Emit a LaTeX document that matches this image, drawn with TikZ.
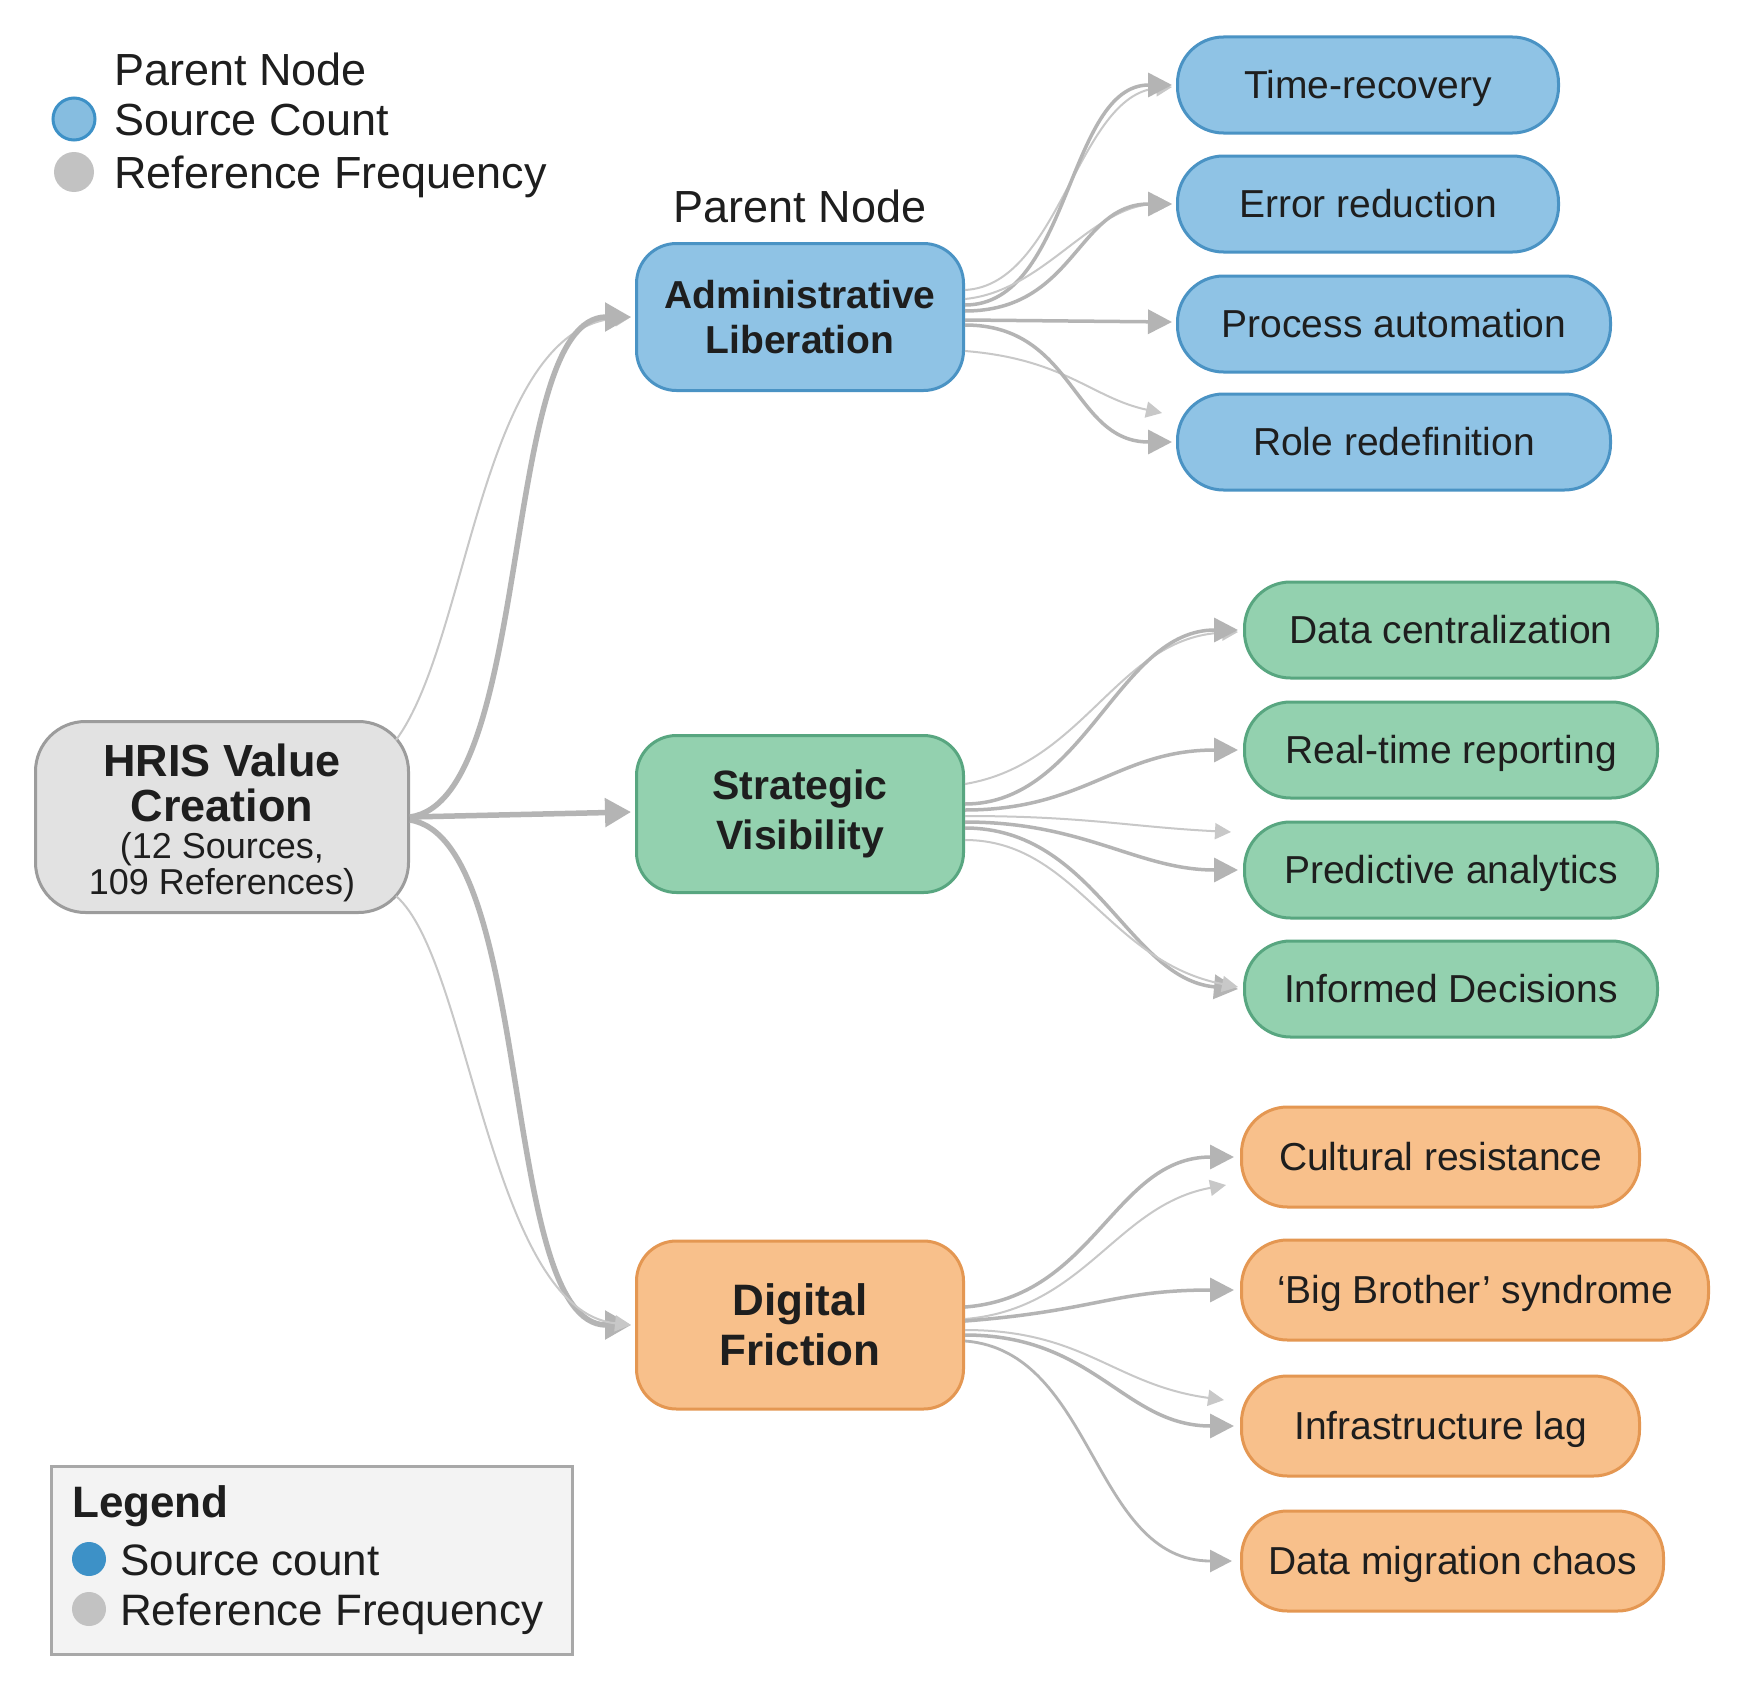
\documentclass[tikz,border=0pt]{standalone}
\usepackage{fontspec}
\setmainfont{Liberation Sans}
\usetikzlibrary{arrows.meta,calc}
\definecolor{ink}{HTML}{1E1E1E}
\definecolor{bluefill}{HTML}{8FC3E5}
\definecolor{bluedraw}{HTML}{4A93C4}
\definecolor{greenfill}{HTML}{93D1AF}
\definecolor{greendraw}{HTML}{58A680}
\definecolor{orangefill}{HTML}{F8C08B}
\definecolor{orangedraw}{HTML}{E49752}
\definecolor{grayfill}{HTML}{E2E2E2}
\definecolor{graydraw}{HTML}{9C9C9C}
\definecolor{arrowgray}{HTML}{B4B4B4}
\definecolor{arrowlight}{HTML}{C8C8C8}
\definecolor{legblue}{HTML}{3D91C7}
\definecolor{legblueb}{HTML}{86BDE0}
\definecolor{leggray}{HTML}{C2C2C2}
\definecolor{legfill}{HTML}{F3F3F3}
\definecolor{legdraw}{HTML}{A8A8A8}
\begin{document}
\begin{tikzpicture}[x=1pt,y=-1pt,
  txt/.style={inner sep=0pt, text=ink},
  parentbox/.style={rounded corners=40pt, line width=3pt, minimum width=327pt, align=center, text=ink},
  leaf/.style={anchor=west, rounded corners=46pt, line width=3pt, minimum height=96pt, text=ink,
    font=\fontsize{39}{44}\selectfont, text height=29pt, text depth=3pt},
  blueleaf/.style={leaf, fill=bluefill, draw=bluedraw},
  greenleaf/.style={leaf, fill=greenfill, draw=greendraw},
  orangeleaf/.style={leaf, fill=orangefill, draw=orangedraw},
  conthick/.style={draw=arrowgray, line width=5.5pt, -{Triangle[length=26pt,width=28pt]}},
  conmed/.style={draw=arrowgray, line width=3.5pt, -{Triangle[length=24pt,width=24pt]}},
  conthin/.style={draw=arrowlight, line width=2pt, -{Triangle[length=16pt,width=16pt]}},
]
\useasboundingbox[fill=white] (0,0) rectangle (1740,1686);

% ---------- top legend ----------
\node[txt, anchor=base west, font=\fontsize{45}{50}\selectfont] (tlparent) at (114,85) {Parent Node};
\node[circle, minimum size=42pt, inner sep=0pt, fill=legblueb, draw=legblue, line width=3pt] (tlbluedot) at (74,119) {};
\node[txt, anchor=base west, font=\fontsize{45}{50}\selectfont] (tlsource) at (114,135) {Source Count};
\node[circle, minimum size=40pt, inner sep=0pt, fill=leggray] (tlgraydot) at (74,172) {};
\node[txt, anchor=base west, font=\fontsize{45}{50}\selectfont] (tlref) at (114,188) {Reference Frequency};

% ---------- root ----------
\node[rounded corners=50pt, line width=3pt, fill=grayfill, draw=graydraw, minimum width=373pt, minimum height=191pt] (hris) at (222,817) {};
\node[txt, align=center, font=\fontsize{45}{45}\selectfont\bfseries] (hristitle) at (222,783) {HRIS Value\\Creation};
\node[txt, align=center, font=\fontsize{36}{36}\selectfont] (hrissub) at (222,867) {(12 Sources,\\109 References)};

% ---------- parents ----------
\node[txt, font=\fontsize{45}{50}\selectfont] (plabel) at (800,206) {Parent Node};
\node[parentbox, fill=bluefill, draw=bluedraw, minimum height=147pt, font=\fontsize{39}{45}\selectfont\bfseries] (admin) at (800,317) {Administrative\\Liberation};
\node[parentbox, fill=greenfill, draw=greendraw, minimum height=157pt, font=\fontsize{41}{50}\selectfont\bfseries] (strat) at (800,814) {Strategic\\Visibility};
\node[parentbox, fill=orangefill, draw=orangedraw, minimum height=168pt, font=\fontsize{44}{50}\selectfont\bfseries] (digi) at (800,1325) {Digital\\Friction};

% ---------- leaves ----------
\node[blueleaf, minimum width=381pt] (tr) at (1176,85) {Time-recovery};
\node[blueleaf, minimum width=381pt] (er) at (1176,204) {Error reduction};
\node[blueleaf, minimum width=433pt] (pa) at (1176,324) {Process automation};
\node[blueleaf, minimum width=433pt] (rr) at (1176,442) {Role redefinition};

\node[greenleaf, minimum width=413pt] (dc) at (1243,630) {Data centralization};
\node[greenleaf, minimum width=413pt] (rt) at (1243,750) {Real-time reporting};
\node[greenleaf, minimum width=413pt] (pr) at (1243,870) {Predictive analytics};
\node[greenleaf, minimum width=413pt] (id) at (1243,989) {Informed Decisions};

\node[orangeleaf, minimum width=398pt, minimum height=100pt] (cr) at (1240,1157) {Cultural resistance};
\node[orangeleaf, minimum width=467pt, minimum height=100pt] (bb) at (1240,1290) {`Big Brother' syndrome};
\node[orangeleaf, minimum width=398pt, minimum height=100pt] (il) at (1240,1426) {Infrastructure lag};
\node[orangeleaf, minimum width=422pt, minimum height=100pt] (dm) at (1240,1561) {Data migration chaos};

% ---------- root connectors ----------
\draw[conthin] ($(hris.north east)+(-14,20)$) .. controls (470,640) and (480,330) .. ($(admin.west)+(-4,0)$);
\draw[conthick] (hris.east) .. controls +(125,-17) and +(-132,0) .. ($(admin.west)+(-4,0)$);
\draw[conthick] (hris.east) -- ($(strat.west)+(-4,-2)$);
\draw[conthick] ($(hris.east)+(0,3)$) .. controls +(125,20) and +(-132,0) .. ($(digi.west)+(-4,0)$);
\draw[conthin] ($(hris.south east)+(-14,-18)$) .. controls (470,960) and (490,1310) .. ($(digi.west)+(-4,0)$);

% ---------- admin connectors ----------
\draw[conthin] ($(admin.east)+(0,-27)$) .. controls +(95,-5) and +(-95,8) .. ($(tr.west)+(-4,2)$);
\draw[conmed] ($(admin.east)+(0,-12)$) .. controls +(105,0) and +(-105,0) .. ($(tr.west)+(-4,0)$);
\draw[conthin] ($(admin.east)+(0,-18)$) .. controls +(80,-8) and +(-80,0) .. ($(er.west)+(-4,0)$);
\draw[conmed] ($(admin.east)+(0,-6)$) .. controls +(110,0) and +(-95,0) .. ($(er.west)+(-4,0)$);
\draw[conmed] ($(admin.east)+(0,3)$) -- ($(pa.west)+(-4,-2)$);
\draw[conthin] ($(admin.east)+(0,34)$) .. controls +(100,8) and +(-70,-15) .. ($(rr.west)+(-14,-29)$);
\draw[conmed] ($(admin.east)+(0,8)$) .. controls +(110,0) and +(-100,0) .. ($(rr.west)+(-4,0)$);

% ---------- strategic connectors ----------
\draw[conthin] ($(strat.east)+(0,-30)$) .. controls +(120,-20) and +(-120,5) .. ($(dc.west)+(-5,2)$);
\draw[conmed] ($(strat.east)+(0,-10)$) .. controls +(120,0) and +(-120,0) .. ($(dc.west)+(-5,0)$);
\draw[conmed] ($(strat.east)+(0,-4)$) .. controls +(120,0) and +(-120,0) .. ($(rt.west)+(-5,0)$);
\draw[conthin] ($(strat.east)+(0,2)$) .. controls +(120,0) and +(-100,-5) .. ($(pr.west)+(-12,-38)$);
\draw[conmed] ($(strat.east)+(0,8)$) .. controls +(120,0) and +(-100,0) .. ($(pr.west)+(-5,0)$);
\draw[conmed] ($(strat.east)+(0,14)$) .. controls +(130,0) and +(-110,-10) .. ($(id.west)+(-5,0)$);
\draw[conthin] ($(strat.east)+(0,26)$) .. controls +(110,0) and +(-130,-25) .. ($(id.west)+(-5,-2)$);

% ---------- digital connectors ----------
\draw[conmed] ($(digi.east)+(0,-18)$) .. controls +(130,-10) and +(-120,0) .. ($(cr.west)+(-6,0)$);
\draw[conthin] ($(digi.east)+(0,-6)$) .. controls +(120,-10) and +(-110,20) .. ($(cr.west)+(-14,28)$);
\draw[conmed] ($(digi.east)+(0,-4)$) .. controls +(130,-10) and +(-120,0) .. ($(bb.west)+(-6,0)$);
\draw[conthin] ($(digi.east)+(0,5)$) .. controls +(120,0) and +(-110,-15) .. ($(il.west)+(-16,-26)$);
\draw[conmed] ($(digi.east)+(0,10)$) .. controls +(130,0) and +(-110,0) .. ($(il.west)+(-6,0)$);
\draw[conmed, line width=2.8pt, -{Triangle[length=22pt,width=22pt]}] ($(digi.east)+(0,16)$) .. controls +(130,10) and +(-140,0) .. ($(dm.west)+(-8,0)$);

% ---------- bottom legend ----------
\node[rectangle, fill=legfill, draw=legdraw, line width=3pt, minimum width=521pt, minimum height=188pt, anchor=north west] (legbox) at (50,1465) {};
\node[txt, anchor=base west, font=\fontsize{44}{48}\selectfont\bfseries] (legtitle) at (72,1517) {Legend};
\node[circle, minimum size=34pt, inner sep=0pt, fill=legblue] (legbluedot) at (89,1559) {};
\node[txt, anchor=base west, font=\fontsize{44}{48}\selectfont] (legsource) at (120,1575) {Source count};
\node[circle, minimum size=34pt, inner sep=0pt, fill=leggray] (leggraydot) at (89,1609) {};
\node[txt, anchor=base west, font=\fontsize{44}{48}\selectfont] (legref) at (120,1625) {Reference Frequency};
\end{tikzpicture}
\end{document}
